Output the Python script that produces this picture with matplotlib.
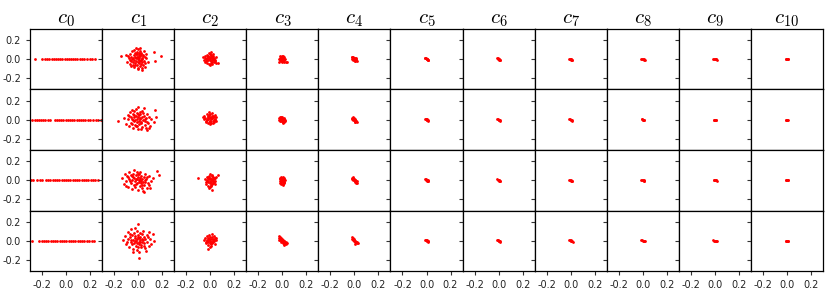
import numpy as np
import matplotlib
matplotlib.use("Agg")
import matplotlib.pyplot as plt

plt.rcParams['mathtext.fontset'] = 'cm'

# column titles
titles = [r'$c_{%d}$' % i for i in range(11)]
ticks = [-0.2, 0.0, 0.2]
tick_labels = ['-0.2', '0.0', '0.2']

# c0: points lie on y = 0, only x values
c0_x = [
    [-0.262, -0.198, -0.171, -0.158, -0.139, -0.121, -0.104, -0.083, -0.066, -0.049, -0.031, -0.012,
     0.006, 0.024, 0.041, 0.058, 0.077, 0.095, 0.113, 0.132, 0.151, 0.176, 0.198, 0.219, 0.243],
    [-0.281, -0.262, -0.244, -0.227, -0.208, -0.191, -0.173, -0.152, -0.131, -0.094, -0.077, -0.058,
     -0.041, -0.022, -0.004, 0.015, 0.033, 0.052, 0.069, 0.088, 0.107, 0.124, 0.143, 0.161, 0.182,
     0.203, 0.224, 0.246, 0.268, 0.291],
    [-0.293, -0.274, -0.238, -0.217, -0.196, -0.168, -0.149, -0.131, -0.109, -0.091, -0.072, -0.055,
     -0.036, -0.018, 0.001, 0.019, 0.037, 0.056, 0.074, 0.093, 0.111, 0.129, 0.148, 0.166, 0.185,
     0.204, 0.223, 0.244, 0.263],
    [-0.287, -0.221, -0.203, -0.184, -0.166, -0.147, -0.128, -0.109, -0.091, -0.072, -0.054, -0.035,
     -0.017, 0.002, 0.021, 0.039, 0.058, 0.077, 0.096, 0.114, 0.133, 0.148, 0.176, 0.193, 0.212, 0.231],
]

c1_pts = [
    [(-0.142, 0.031), (-0.103, 0.043), (-0.092, -0.027), (-0.078, 0.012), (-0.071, 0.058), (-0.066, -0.048),
     (-0.061, 0.024), (-0.057, -0.018), (-0.049, 0.083), (-0.052, 0.004), (-0.046, -0.061), (-0.038, 0.041),
     (-0.043, -0.033), (-0.036, 0.097), (-0.029, 0.019), (-0.031, -0.079), (-0.027, 0.064), (-0.033, -0.009),
     (-0.018, 0.052), (-0.022, -0.042), (-0.016, 0.013), (-0.021, 0.118), (-0.008, -0.057), (-0.012, 0.028),
     (-0.006, 0.077), (-0.014, -0.023), (-0.003, 0.002), (0.004, 0.047), (0.002, -0.088), (-0.001, 0.021),
     (0.006, -0.038), (0.003, 0.104), (0.011, 0.009), (0.014, -0.017), (0.009, 0.061), (0.012, -0.071),
     (0.017, 0.034), (0.021, -0.004), (0.019, 0.122), (0.024, -0.052), (0.018, 0.042), (0.028, -0.096),
     (0.031, 0.017), (0.027, 0.071), (0.033, -0.029), (0.038, 0.049), (0.042, -0.063), (0.036, 0.003),
     (0.047, 0.088), (0.051, -0.019), (0.053, 0.027), (0.058, -0.078), (0.062, 0.011), (0.068, 0.052),
     (0.079, -0.031), (0.128, 0.072), (0.141, -0.018), (0.187, 0.038), (0.029, -0.117), (-0.058, -0.068),
     (-0.084, 0.037), (-0.011, 0.054), (0.007, -0.006), (0.043, 0.031), (-0.025, -0.061), (0.016, 0.082),
     (-0.044, 0.016), (0.061, -0.041), (0.001, -0.027), (-0.067, -0.006), (0.024, 0.057), (-0.005, -0.104)],
    [(-0.168, -0.012), (-0.121, 0.018), (-0.098, -0.041), (-0.088, 0.052), (-0.081, 0.003), (-0.072, -0.069),
     (-0.068, 0.079), (-0.061, 0.027), (-0.057, -0.032), (-0.049, 0.101), (-0.052, 0.011), (-0.046, -0.088),
     (-0.041, 0.062), (-0.038, -0.018), (-0.036, 0.024), (-0.029, -0.053), (-0.033, 0.089), (-0.024, -0.002),
     (-0.018, 0.043), (-0.021, -0.071), (-0.016, 0.118), (-0.009, 0.013), (-0.012, -0.027), (-0.007, 0.071),
     (0.002, 0.138), (-0.003, 0.032), (0.004, -0.011), (0.001, -0.097), (0.011, 0.051), (0.008, -0.048),
     (0.013, 0.087), (0.019, 0.007), (0.022, -0.022), (0.017, 0.063), (0.028, -0.081), (0.031, 0.028),
     (0.026, -0.037), (0.042, 0.068), (0.038, -0.003), (0.048, 0.121), (0.053, -0.058), (0.046, 0.041),
     (0.058, -0.012), (0.063, -0.091), (0.067, 0.022), (0.072, 0.057), (0.081, -0.038), (0.077, -0.108),
     (0.091, 0.031), (0.098, -0.068), (0.108, 0.004), (0.131, -0.021), (0.138, 0.101), (0.152, 0.032),
     (-0.052, -0.041), (0.088, -0.087), (-0.074, 0.037), (-0.011, -0.061), (0.034, 0.092), (0.057, 0.012),
     (-0.031, 0.047), (0.012, 0.021), (-0.044, -0.006), (0.071, -0.019), (-0.004, 0.058), (0.024, -0.103)],
    [(-0.131, 0.021), (-0.118, -0.037), (-0.112, 0.068), (-0.101, -0.008), (-0.089, 0.042), (-0.083, -0.071),
     (-0.076, 0.013), (-0.072, 0.087), (-0.062, -0.028), (-0.058, 0.053), (-0.051, 0.002), (-0.047, -0.088),
     (-0.041, 0.031), (-0.038, -0.051), (-0.043, 0.071), (-0.028, -0.012), (-0.031, 0.108), (-0.019, 0.018),
     (-0.022, -0.068), (-0.016, 0.058), (-0.009, -0.032), (-0.013, 0.008), (-0.006, 0.092), (0.003, -0.101),
     (-0.002, 0.038), (0.004, -0.019), (0.011, 0.071), (0.008, -0.002), (0.013, -0.058), (0.019, 0.027),
     (0.022, -0.033), (0.017, 0.089), (0.028, -0.078), (0.031, 0.012), (0.026, 0.048), (0.041, -0.021),
     (0.038, -0.111), (0.048, 0.037), (0.052, -0.052), (0.057, 0.003), (0.061, 0.068), (0.071, -0.081),
     (0.068, 0.018), (0.081, -0.029), (0.088, 0.041), (0.101, -0.078), (0.108, -0.008), (0.121, 0.022),
     (0.158, 0.098), (0.177, 0.057), (-0.098, -0.058), (0.048, -0.121), (-0.064, -0.007), (0.002, 0.061),
     (-0.032, 0.028), (0.036, -0.047), (0.072, 0.038), (-0.017, -0.041), (0.014, 0.004), (-0.047, 0.048),
     (0.058, -0.022), (0.091, -0.051), (-0.081, 0.032), (0.024, -0.009)],
    [(-0.124, 0.003), (-0.108, 0.048), (-0.101, -0.031), (-0.087, 0.088), (-0.082, 0.017), (-0.078, -0.061),
     (-0.068, 0.042), (-0.062, -0.011), (-0.057, 0.121), (-0.049, 0.058), (-0.052, -0.038), (-0.041, 0.011),
     (-0.044, -0.082), (-0.038, 0.077), (-0.029, 0.028), (-0.033, -0.019), (-0.027, 0.132), (-0.018, -0.051),
     (-0.022, 0.052), (-0.016, 0.002), (-0.008, 0.098), (-0.012, -0.028), (-0.006, 0.021), (-0.011, -0.098),
     (0.002, 0.181), (-0.003, 0.061), (0.004, -0.008), (0.001, -0.062), (0.011, 0.032), (0.008, -0.031),
     (0.013, 0.082), (0.009, -0.178), (0.019, 0.004), (0.022, -0.071), (0.017, 0.041), (0.028, -0.018),
     (0.031, 0.068), (0.026, -0.048), (0.041, 0.012), (0.038, 0.108), (0.048, -0.027), (0.052, 0.038),
     (0.057, -0.081), (0.061, 0.021), (0.071, 0.062), (0.077, -0.009), (0.088, -0.052), (0.092, 0.088),
     (0.101, 0.018), (0.108, -0.032), (0.121, 0.071), (0.128, 0.002), (-0.041, -0.121), (0.068, -0.108),
     (-0.071, 0.067), (0.014, -0.014), (-0.024, -0.004), (0.036, 0.022), (-0.004, 0.038), (0.046, -0.058),
     (-0.092, -0.011), (0.081, 0.041), (0.006, -0.122), (-0.058, 0.008)],
]

c2_pts = [
    [(-0.058, 0.021), (-0.048, -0.012), (-0.042, 0.031), (-0.037, 0.003), (-0.041, -0.028), (-0.031, 0.048),
     (-0.028, 0.012), (-0.033, -0.019), (-0.021, 0.038), (-0.018, -0.004), (-0.024, -0.042), (-0.016, 0.019),
     (-0.008, 0.071), (-0.011, 0.028), (-0.006, -0.011), (-0.013, -0.051), (0.002, 0.052), (-0.002, 0.008),
     (0.003, -0.023), (-0.001, -0.062), (0.006, 0.031), (0.008, 0.081), (0.011, -0.002), (0.013, -0.033),
     (0.009, 0.042), (0.018, 0.017), (0.021, -0.013), (0.017, -0.047), (0.023, 0.058), (0.028, 0.006),
     (0.031, -0.027), (0.027, 0.037), (0.038, -0.003), (0.042, -0.018), (0.047, 0.024), (0.049, -0.038),
     (0.068, -0.042), (-0.014, 0.004), (0.014, 0.022), (-0.027, -0.003), (0.033, 0.016), (0.004, -0.041),
     (-0.046, 0.011), (0.021, 0.003)],
    [(-0.051, 0.038), (-0.048, 0.004), (-0.041, 0.022), (-0.037, -0.017), (-0.031, 0.058), (-0.028, 0.013),
     (-0.033, -0.028), (-0.021, 0.043), (-0.018, 0.003), (-0.022, -0.037), (-0.009, 0.079), (-0.012, 0.021),
     (-0.006, -0.008), (-0.013, 0.051), (0.002, 0.032), (-0.003, -0.018), (0.004, 0.007), (0.001, -0.047),
     (-0.002, 0.062), (0.011, 0.014), (0.008, -0.031), (0.013, 0.041), (0.018, 0.022), (0.021, -0.009),
     (0.017, 0.068), (0.023, -0.038), (0.031, 0.027), (0.028, 0.002), (0.033, -0.021), (0.041, 0.048),
     (0.038, 0.011), (0.048, -0.008), (-0.061, 0.031), (0.052, 0.028), (-0.016, 0.028), (0.007, 0.021),
     (-0.027, -0.006), (0.026, 0.038), (-0.004, -0.027), (0.036, -0.004)],
    [(-0.101, 0.021), (-0.041, 0.012), (-0.038, -0.018), (-0.031, 0.038), (-0.028, 0.002), (-0.033, -0.041),
     (-0.021, 0.022), (-0.018, -0.021), (-0.022, -0.058), (-0.009, 0.048), (-0.012, 0.008), (-0.006, -0.031),
     (-0.011, -0.078), (0.002, 0.028), (-0.003, -0.008), (0.004, -0.049), (0.001, 0.061), (0.011, 0.003),
     (0.008, -0.021), (0.013, 0.041), (0.009, -0.062), (0.018, 0.018), (0.021, -0.028), (0.017, 0.057),
     (0.028, 0.008), (0.031, -0.018), (0.027, 0.038), (0.038, -0.041), (0.041, 0.021), (0.048, 0.037),
     (0.062, 0.051), (0.018, -0.098), (0.043, -0.011), (-0.016, 0.031), (0.006, 0.014), (-0.024, -0.004),
     (0.024, -0.006), (-0.002, -0.068), (0.034, 0.024), (0.013, -0.041)],
    [(-0.052, 0.012), (-0.043, 0.031), (-0.038, -0.008), (-0.031, 0.052), (-0.028, 0.011), (-0.033, -0.028),
     (-0.021, 0.033), (-0.018, -0.012), (-0.022, -0.048), (-0.009, 0.058), (-0.012, 0.018), (-0.006, -0.022),
     (0.002, 0.041), (-0.003, 0.002), (0.004, -0.031), (0.001, -0.068), (0.011, 0.071), (0.008, 0.021),
     (0.013, -0.008), (0.009, -0.051), (0.018, 0.038), (0.021, 0.004), (0.017, -0.028), (0.028, 0.048),
     (0.031, 0.013), (0.027, -0.018), (0.041, 0.027), (0.038, -0.038), (0.048, 0.003), (-0.019, -0.088),
     (0.052, 0.031), (-0.014, 0.004), (0.006, -0.011), (0.024, 0.022), (-0.027, -0.006), (0.033, -0.004)],
]

c3_pts = [
    [(-0.028, 0.002), (-0.021, 0.018), (-0.019, -0.008), (-0.017, 0.036), (-0.011, 0.028), (-0.008, 0.009),
     (-0.012, -0.016), (-0.004, -0.002), (-0.002, 0.038), (0.002, 0.021), (0.001, 0.004), (0.003, -0.014),
     (-0.001, -0.027), (0.009, 0.031), (0.008, 0.012), (0.011, -0.006), (0.013, -0.024), (0.018, 0.019),
     (0.021, 0.003), (0.017, -0.013), (0.028, -0.027), (0.036, -0.028), (-0.024, -0.027), (-0.007, 0.017),
     (0.006, -0.011), (0.014, 0.006), (-0.015, 0.006), (0.004, 0.013)],
    [(-0.029, 0.016), (-0.027, 0.001), (-0.021, 0.028), (-0.018, 0.009), (-0.019, -0.011), (-0.011, 0.026),
     (-0.008, 0.002), (-0.012, -0.018), (-0.002, 0.018), (0.001, -0.002), (0.003, -0.021), (-0.001, 0.034),
     (0.009, 0.013), (0.011, -0.004), (0.008, -0.019), (0.018, 0.008), (0.021, -0.009), (0.017, -0.024),
     (0.026, 0.001), (0.002, -0.033), (-0.006, 0.011), (0.006, 0.006), (-0.014, -0.004), (0.013, 0.021)],
    [(-0.019, 0.028), (-0.018, 0.008), (-0.021, -0.009), (-0.017, -0.027), (-0.008, 0.038), (-0.011, 0.017),
     (-0.009, 0.002), (-0.012, -0.017), (-0.008, -0.036), (0.002, 0.028), (-0.002, 0.011), (0.001, -0.009),
     (0.003, -0.028), (0.009, 0.036), (0.011, 0.018), (0.008, 0.001), (0.012, -0.018), (0.009, -0.037),
     (0.018, 0.019), (0.019, 0.002), (0.017, -0.016), (0.016, -0.029), (0.002, -0.046), (-0.004, 0.019),
     (0.005, -0.002), (-0.013, 0.008)],
    [(-0.028, 0.048), (-0.027, 0.029), (-0.021, 0.038), (-0.018, 0.021), (-0.022, 0.004), (-0.011, 0.028),
     (-0.009, 0.011), (-0.012, -0.008), (-0.002, 0.018), (0.001, 0.002), (0.003, -0.016), (0.009, 0.008),
     (0.011, -0.011), (0.008, -0.027), (0.018, -0.002), (0.021, -0.019), (0.017, -0.036), (0.028, -0.018),
     (0.031, -0.034), (0.037, -0.027), (0.011, -0.043), (-0.027, 0.012), (-0.006, 0.006), (0.014, -0.006),
     (0.024, -0.028), (-0.016, 0.014)],
]

c4_pts = [
    [(-0.017, 0.019), (-0.019, 0.002), (-0.009, 0.026), (-0.012, 0.008), (-0.008, -0.009), (-0.001, 0.017),
     (0.002, 0.001), (0.001, -0.016), (0.009, 0.011), (0.011, -0.007), (0.008, -0.018), (0.017, 0.002),
     (0.018, -0.016), (-0.018, 0.027), (0.016, 0.013), (-0.004, 0.007), (0.006, -0.004)],
    [(-0.018, 0.018), (-0.017, 0.003), (-0.011, 0.026), (-0.009, 0.009), (-0.012, -0.006), (-0.002, 0.016),
     (0.001, 0.001), (0.003, -0.011), (0.008, 0.006), (0.011, -0.008), (0.009, -0.019), (0.017, -0.011),
     (0.019, -0.024), (0.002, -0.026), (-0.005, 0.006), (0.006, -0.002)],
    [(-0.017, 0.028), (-0.019, 0.011), (-0.009, 0.036), (-0.011, 0.019), (-0.008, 0.002), (-0.002, 0.017),
     (0.001, 0.001), (0.003, -0.011), (0.009, 0.007), (0.011, -0.008), (0.008, -0.019), (0.018, -0.011),
     (0.019, -0.026), (0.011, -0.028), (-0.004, 0.009), (0.006, -0.002)],
    [(-0.018, 0.038), (-0.016, 0.019), (-0.009, 0.028), (-0.011, 0.009), (-0.007, -0.006), (-0.002, 0.018),
     (0.001, 0.002), (0.003, -0.016), (0.008, 0.001), (0.011, -0.017), (0.018, -0.008), (0.019, -0.027),
     (0.027, -0.028), (0.009, -0.034), (-0.004, 0.009), (0.014, -0.012)],
]

c5_pts = [
    [(-0.010, 0.015), (-0.005, 0.010), (0.000, 0.005), (0.000, 0.000), (0.005, -0.002),
     (0.010, -0.008), (0.015, -0.012), (-0.010, 0.008), (0.008, 0.000), (0.012, -0.005)],
    [(-0.010, 0.012), (-0.005, 0.008), (0.000, 0.004), (0.000, 0.000), (0.005, -0.003),
     (0.010, -0.007), (0.014, -0.010), (-0.008, 0.005), (0.007, 0.001)],
    [(-0.010, 0.014), (-0.005, 0.010), (0.000, 0.005), (0.000, 0.000), (0.005, -0.003),
     (0.010, -0.007), (0.015, -0.011), (-0.008, 0.006), (0.009, -0.001)],
    [(-0.010, 0.013), (-0.005, 0.009), (0.000, 0.004), (0.000, 0.000), (0.005, -0.003),
     (0.010, -0.007), (0.015, -0.011), (-0.008, 0.006), (0.009, -0.002)],
]

c6_pts = [
    [(-0.012, 0.008), (-0.006, 0.005), (0.000, 0.001), (0.005, -0.003), (0.010, -0.006),
     (0.014, -0.009), (-0.008, 0.009), (0.006, 0.000)],
    [(-0.010, 0.008), (-0.005, 0.005), (0.000, 0.001), (0.005, -0.002), (0.010, -0.006),
     (0.013, -0.008), (0.004, 0.001)],
    [(-0.011, 0.008), (-0.006, 0.005), (0.000, 0.001), (0.005, -0.003), (0.010, -0.006),
     (0.014, -0.009), (0.005, 0.000)],
    [(-0.012, 0.008), (-0.006, 0.005), (0.000, 0.001), (0.005, -0.003), (0.010, -0.006),
     (0.015, -0.009), (-0.007, 0.008), (0.006, 0.000)],
]

c7_pts = [
    [(-0.012, 0.007), (-0.006, 0.004), (0.000, 0.000), (0.006, -0.003), (0.012, -0.007),
     (0.015, -0.009), (0.000, 0.004)],
    [(-0.010, 0.007), (-0.005, 0.004), (0.000, 0.001), (0.005, -0.002), (0.010, -0.005),
     (0.013, -0.008)],
    [(-0.011, 0.007), (-0.006, 0.004), (0.000, 0.001), (0.006, -0.003), (0.011, -0.006),
     (0.014, -0.008)],
    [(-0.013, 0.007), (-0.007, 0.004), (0.000, 0.001), (0.006, -0.003), (0.012, -0.006),
     (0.016, -0.009), (0.001, 0.004)],
]

c8_pts = [
    [(-0.012, 0.005), (-0.006, 0.003), (0.000, 0.000), (0.006, -0.002), (0.012, -0.005),
     (0.015, -0.007)],
    [(-0.010, 0.005), (-0.005, 0.003), (0.000, 0.001), (0.005, -0.002), (0.010, -0.004),
     (0.013, -0.006)],
    [(-0.011, 0.006), (-0.006, 0.003), (0.000, 0.001), (0.006, -0.002), (0.011, -0.005),
     (0.014, -0.006)],
    [(-0.012, 0.005), (-0.006, 0.003), (0.000, 0.001), (0.006, -0.002), (0.012, -0.005),
     (0.016, -0.007)],
]

c9_pts = [
    [(-0.012, 0.002), (-0.006, 0.001), (0.000, 0.000), (0.006, -0.001), (0.012, -0.002),
     (0.015, -0.003)],
    [(-0.010, 0.002), (-0.005, 0.001), (0.000, 0.000), (0.005, -0.001), (0.010, -0.002),
     (0.012, -0.003)],
    [(-0.011, 0.002), (-0.006, 0.001), (0.000, 0.000), (0.006, -0.001), (0.011, -0.002),
     (0.014, -0.003)],
    [(-0.012, 0.003), (-0.006, 0.002), (0.000, 0.000), (0.006, -0.001), (0.012, -0.002),
     (0.016, -0.003)],
]

c10_pts = [
    [(-0.012, 0.000), (-0.006, 0.000), (0.000, 0.000), (0.006, 0.000), (0.011, 0.000)],
    [(-0.008, 0.001), (-0.004, 0.000), (0.000, 0.000), (0.004, 0.000), (0.008, -0.001)],
    [(-0.010, 0.000), (-0.005, 0.000), (0.000, 0.000), (0.005, 0.000), (0.010, 0.000)],
    [(-0.011, 0.001), (-0.005, 0.000), (0.000, 0.000), (0.005, 0.000), (0.010, -0.001)],
]

cols = [None, c1_pts, c2_pts, c3_pts, c4_pts, c5_pts, c6_pts, c7_pts, c8_pts, c9_pts, c10_pts]

fig, axes = plt.subplots(4, 11, figsize=(8.31, 2.94), dpi=100, sharex=True, sharey=True)
fig.subplots_adjust(left=0.0361, right=0.9904, top=0.9014, bottom=0.0782, wspace=0, hspace=0)

for r in range(4):
    for c in range(11):
        ax = axes[r, c]
        if c == 0:
            xs = np.array(c0_x[r])
            ys = np.zeros_like(xs)
        else:
            pts = np.array(cols[c][r])
            xs, ys = pts[:, 0], pts[:, 1]
        ax.scatter(xs, ys, s=4, c='red', marker='o', linewidths=0)
        if r == 0:
            ax.set_title(titles[c], fontsize=15, pad=3)

ax = axes[0, 0]
ax.set_xlim(-0.3, 0.3)
ax.set_ylim(-0.32, 0.32)
ax.set_xticks(ticks)
ax.set_yticks(ticks)
ax.set_xticklabels(tick_labels)
ax.set_yticklabels(tick_labels)
for a in axes.flat:
    a.tick_params(labelsize=7, length=3, width=0.8, color='#333333', labelcolor='#222222')
    for s in a.spines.values():
        s.set_linewidth(0.9)

fig.savefig('out.png', dpi=100)
